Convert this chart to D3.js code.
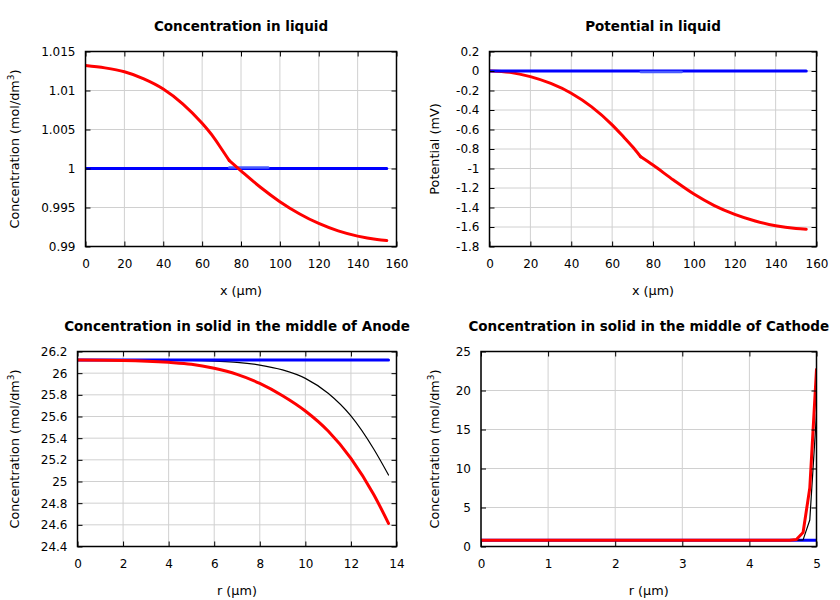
<!DOCTYPE html>
<html>
<head>
<meta charset="utf-8">
<script src="https://cdn.jsdelivr.net/npm/d3@7"></script>
<style>
  html, body { margin: 0; padding: 0; background: #fff; }
  svg { display: block; }
</style>
</head>
<body>
<svg id="chart" width="840" height="600"></svg>
<script>
// ---------- DATA ----------
// Panel 1: Concentration in liquid
const liqX = [0, 10, 20, 30, 40, 50, 60, 65, 70, 74, 80, 90, 100, 110, 120, 130, 140, 150, 155];
const liqKinkX = 74;
const liqConcRed = [1.0132, 1.0129, 1.0124, 1.0115, 1.0102, 1.0083, 1.0058, 1.0043, 1.0025, 1.0010, 0.9997, 0.9976, 0.99575, 0.9942, 0.99295, 0.9920, 0.99133, 0.9909, 0.99077];
const liqConcBlueX = [0, 155];
const liqConcBlue = [1.0, 1.0];
const liqConcSepX = [74, 94];
const liqConcSep = [1.00013, 1.00013];
// Panel 2: Potential in liquid
const liqPotRed = [0, -0.014, -0.058, -0.128, -0.228, -0.368, -0.552, -0.662, -0.777, -0.880, -0.965, -1.118, -1.262, -1.380, -1.470, -1.538, -1.588, -1.616, -1.623];
const liqPotBlueX = [0, 155];
const liqPotBlue = [0, 0];
const liqPotSepX = [74, 94];
const liqPotSep = [-0.01, -0.01];
// Panel 3: Concentration in solid, anode
const anodeR = [0, 2, 4, 5, 6, 7, 8, 9, 10, 11, 12, 13, 13.65];
const anodeRed = [26.121, 26.117, 26.100, 26.083, 26.045, 25.989, 25.906, 25.792, 25.651, 25.466, 25.214, 24.88, 24.614];
const anodeBlack = [26.121, 26.121, 26.12, 26.117, 26.11, 26.10, 26.075, 26.03, 25.952, 25.814, 25.605, 25.30, 25.06];
const anodeBlueR = [0, 13.65];
const anodeBlue = [26.121, 26.121];
// Panel 4: Concentration in solid, cathode
const cathRedR = [0, 4.6, 4.7, 4.8, 4.9, 5.0];
const cathRed = [0.8, 0.8, 0.9, 1.8, 7.5, 22.7];
const cathBlackR = [0, 4.7, 4.8, 4.9, 5.0];
const cathBlack = [0.8, 0.8, 0.85, 3.4, 17];
const cathBlueR = [0, 5];
const cathBlue = [0.8, 0.8];

// Tick values
const liqXTicks = [0, 20, 40, 60, 80, 100, 120, 140, 160];
const liqConcTicks = [0.99, 0.995, 1, 1.005, 1.01, 1.015];
const liqPotTicks = [-1.8, -1.6, -1.4, -1.2, -1, -0.8, -0.6, -0.4, -0.2, 0, 0.2];
const anodeRTicks = [0, 2, 4, 6, 8, 10, 12, 14];
const anodeTicks = [24.4, 24.6, 24.8, 25, 25.2, 25.4, 25.6, 25.8, 26, 26.2];
const cathRTicks = [0, 1, 2, 3, 4, 5];
const cathTicks = [0, 5, 10, 15, 20, 25];

// Titles / labels
const titles = ["Concentration in liquid", "Potential in liquid",
  "Concentration in solid in the middle of Anode", "Concentration in solid in the middle of Cathode"];
const xLabels = ["x (\u03bcm)", "x (\u03bcm)", "r (\u03bcm)", "r (\u03bcm)"];
const yLabels = ["Concentration (mol/dm", "Potential (mV)", "Concentration (mol/dm", "Concentration (mol/dm"];

// ---------- DRAW ----------
const svg = d3.select("#chart");
const FONT = "DejaVu Sans, sans-serif";
const RED = "#ff0000", BLUE = "#0000ff", LIGHTBLUE = "#4a5cff", BLACK = "#000000";

function zip(xs, ys) { return xs.map((x, i) => [x, ys[i]]); }
// split a series at a kink x so each side is smoothed separately
function splitAt(data, kx) {
  return [data.filter(d => d[0] <= kx), data.filter(d => d[0] >= kx)];
}

function panel(cfg) {
  const { left, right, top, bottom } = cfg;
  const g = svg.append("g");
  const x = d3.scaleLinear().domain(cfg.xDomain).range([left, right]);
  const y = d3.scaleLinear().domain(cfg.yDomain).range([bottom, top]);

  // grid
  g.append("g").selectAll("line").data(cfg.xTicks).join("line")
    .attr("x1", d => x(d)).attr("x2", d => x(d)).attr("y1", top).attr("y2", bottom)
    .attr("stroke", "#d0d0d0").attr("stroke-width", 1);
  g.append("g").selectAll("line").data(cfg.yTicks).join("line")
    .attr("x1", left).attr("x2", right).attr("y1", d => y(d)).attr("y2", d => y(d))
    .attr("stroke", "#d0d0d0").attr("stroke-width", 1);

  // series
  const clipId = "clip" + cfg.id;
  svg.append("clipPath").attr("id", clipId).append("rect")
    .attr("x", left).attr("y", top - 2).attr("width", right - left).attr("height", bottom - top + 4);
  const sg = g.append("g").attr("clip-path", `url(#${clipId})`);
  cfg.series.forEach(s => {
    const line = d3.line().x(d => x(d[0])).y(d => y(d[1]))
      .curve(s.smooth ? d3.curveMonotoneX : d3.curveLinear);
    const parts = s.kink !== undefined ? splitAt(s.data, s.kink) : [s.data];
    parts.forEach(p => {
      sg.append("path").datum(p).attr("d", line)
        .attr("fill", "none").attr("stroke", s.color).attr("stroke-width", s.width)
        .attr("stroke-linejoin", "round").attr("stroke-linecap", "round");
    });
  });

  // axes with inward ticks
  const fmt = d => String(d);
  const styleAxis = sel => {
    sel.select(".domain").remove();
    sel.selectAll(".tick line").attr("stroke", "#000").attr("stroke-width", 1);
    sel.selectAll("text").attr("font-family", FONT).attr("font-size", 12).attr("fill", "#000");
  };
  g.append("g").attr("transform", `translate(0,${bottom})`)
    .call(d3.axisBottom(x).tickValues(cfg.xTicks).tickFormat(fmt).tickSize(-5).tickPadding(13))
    .call(styleAxis);
  g.append("g").attr("transform", `translate(0,${top})`)
    .call(d3.axisTop(x).tickValues(cfg.xTicks).tickFormat("").tickSize(-5))
    .call(styleAxis);
  g.append("g").attr("transform", `translate(${left},0)`)
    .call(d3.axisLeft(y).tickValues(cfg.yTicks).tickFormat(fmt).tickSize(-5).tickPadding(10))
    .call(styleAxis);
  g.append("g").attr("transform", `translate(${right},0)`)
    .call(d3.axisRight(y).tickValues(cfg.yTicks).tickFormat("").tickSize(-5))
    .call(styleAxis);

  // border
  g.append("rect").attr("x", left).attr("y", top).attr("width", right - left).attr("height", bottom - top)
    .attr("fill", "none").attr("stroke", "#000").attr("stroke-width", 1.5);

  // title
  g.append("text").attr("x", (left + right) / 2).attr("y", cfg.titleY)
    .attr("text-anchor", "middle").attr("font-family", FONT).attr("font-weight", "bold")
    .attr("font-size", 13.5).text(cfg.title);
  // x label
  g.append("text").attr("x", (left + right) / 2).attr("y", cfg.xLabelY)
    .attr("text-anchor", "middle").attr("font-family", FONT).attr("font-size", 12.8).text(cfg.xLabel);
  // y label
  const yl = g.append("text").attr("transform", `translate(${cfg.yLabelX},${(top + bottom) / 2}) rotate(-90)`)
    .attr("text-anchor", "middle").attr("font-family", FONT).attr("font-size", 12.8);
  yl.append("tspan").text(cfg.yLabel);
  if (cfg.sup) {
    yl.append("tspan").attr("font-size", 9).attr("dy", -5).text("3");
    yl.append("tspan").attr("dy", 5).text(")");
  }
}

panel({
  id: 1, left: 85.5, right: 396.5, top: 51.5, bottom: 246.5,
  xDomain: [0, 160], yDomain: [0.99, 1.015], xTicks: liqXTicks, yTicks: liqConcTicks,
  title: titles[0], titleY: 31, xLabel: xLabels[0], xLabelY: 294.5, yLabel: yLabels[0], yLabelX: 18.5, sup: true,
  series: [
    { data: zip(liqConcBlueX, liqConcBlue), color: BLUE, width: 3 },
    { data: zip(liqConcSepX, liqConcSep), color: LIGHTBLUE, width: 2.5 },
    { data: zip(liqX, liqConcRed), color: RED, width: 3, smooth: true, kink: liqKinkX }
  ]
});
panel({
  id: 2, left: 489.5, right: 816.5, top: 51.5, bottom: 246.5,
  xDomain: [0, 160], yDomain: [-1.8, 0.2], xTicks: liqXTicks, yTicks: liqPotTicks,
  title: titles[1], titleY: 31, xLabel: xLabels[1], xLabelY: 294.5, yLabel: yLabels[1], yLabelX: 438.5, sup: false,
  series: [
    { data: zip(liqX, liqPotRed), color: RED, width: 3, smooth: true, kink: liqKinkX },
    { data: zip(liqPotBlueX, liqPotBlue), color: BLUE, width: 3 },
    { data: zip(liqPotSepX, liqPotSep), color: LIGHTBLUE, width: 2.5 }
  ]
});
panel({
  id: 3, left: 77.5, right: 396.5, top: 351.5, bottom: 546.5,
  xDomain: [0, 14], yDomain: [24.4, 26.2], xTicks: anodeRTicks, yTicks: anodeTicks,
  title: titles[2], titleY: 331, xLabel: xLabels[2], xLabelY: 594.5, yLabel: yLabels[2], yLabelX: 18.5, sup: true,
  series: [
    { data: zip(anodeR, anodeBlack), color: BLACK, width: 1.2, smooth: true },
    { data: zip(anodeBlueR, anodeBlue), color: BLUE, width: 3 },
    { data: zip(anodeR, anodeRed), color: RED, width: 3, smooth: true }
  ]
});
panel({
  id: 4, left: 481, right: 816.5, top: 351.5, bottom: 546.5,
  xDomain: [0, 5], yDomain: [0, 25], xTicks: cathRTicks, yTicks: cathTicks,
  title: titles[3], titleY: 331, xLabel: xLabels[3], xLabelY: 594.5, yLabel: yLabels[3], yLabelX: 438.5, sup: true,
  series: [
    { data: zip(cathBlueR, cathBlue), color: BLUE, width: 3 },
    { data: zip(cathBlackR, cathBlack), color: BLACK, width: 1.2 },
    { data: zip(cathRedR, cathRed), color: RED, width: 3 }
  ]
});
</script>
</body>
</html>
